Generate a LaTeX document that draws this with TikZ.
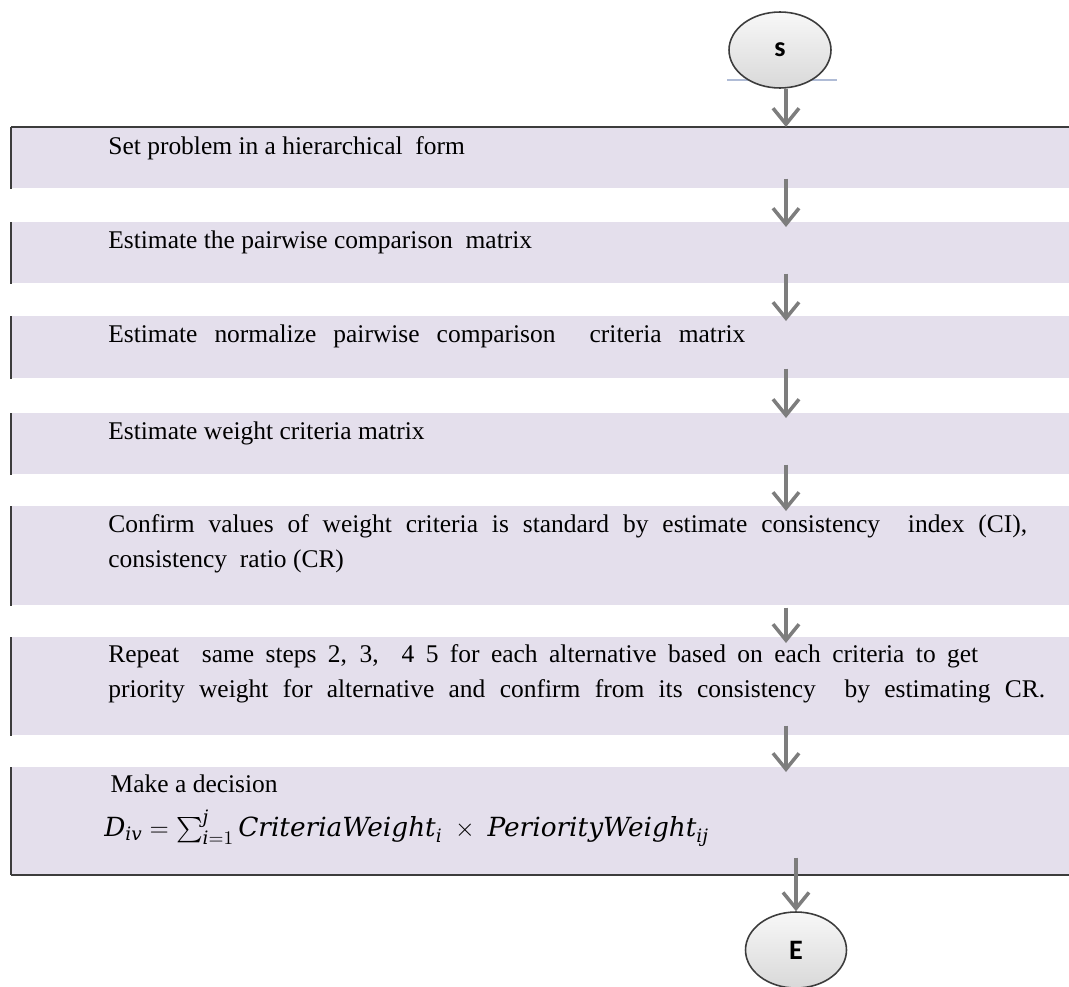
\documentclass[tikz,border=0pt]{standalone}
\usepackage{fontspec}
\usepackage{amsmath}
\setmainfont{Liberation Serif}
\newfontfamily\ovalfont{Carlito}
\newfontfamily\formfont{DejaVu Serif}
\usetikzlibrary{arrows.meta,shapes.geometric}
\definecolor{boxfill}{RGB}{228,223,236}
\definecolor{edgegray}{RGB}{60,60,60}
\definecolor{flowgray}{RGB}{125,125,125}
\definecolor{ruleblue}{RGB}{176,188,214}
\newcommand{\spreadline}[2]{\makebox[#1][s]{#2}}
\newcommand{\fm}[1]{\text{\formfont\itshape #1}}

\begin{document}
\begin{tikzpicture}[x=0.02cm,y=-0.02cm,
    stepbox/.style={fill=boxfill,inner sep=0pt,anchor=north west,minimum width=21.16cm},
    steptext/.style={anchor=base west,align=left,inner sep=0pt,font=\fontsize{14.5}{19.9}\selectfont},
    oval/.style={ellipse,draw=edgegray,line width=0.9pt,top color=gray!6,bottom color=gray!30,inner sep=0pt,font=\ovalfont\bfseries\fontsize{16}{16}\selectfont},
    flow/.style={draw=flowgray,line width=2pt,-{Straight Barb[length=0.32cm,width=0.52cm]}}]
\useasboundingbox (0,0) rectangle (1069,987);
% step boxes: name/top/bottom
\foreach \n/\t/\b in {b1/127/188,b2/222/283,b3/316/378,b4/413/474,b5/506/605,b6/637/735,b7/767/874} {
    \node[stepbox,minimum height={(\b-\t)*0.02cm}] (\n) at (11,\t) {};
    \draw[edgegray,line width=1.2pt] (\n.north west) -- (\n.south west);
}
\draw[edgegray,line width=1.2pt] (b1.north west) -- (b1.north east);
\draw[edgegray,line width=1.2pt] (b7.south west) -- (b7.south east);
% texts (multi-line nodes sit on their last baseline)
\node[steptext] (t1) at (108,154) {Set problem in a hierarchical\ \ form};
\node[steptext] (t2) at (108,248) {Estimate the pairwise comparison\ \ matrix};
\node[steptext] (t3) at (108,342) {\spreadline{12.74cm}{Estimate normalize pairwise comparison\ \ criteria matrix}};
\node[steptext] (t4) at (108,439) {Estimate weight criteria matrix};
\node[steptext] (t5) at (108,567) {\spreadline{18.38cm}{Confirm values of weight criteria is standard by estimate consistency\ \ index (CI),}\\consistency\ \ ratio (CR)};
\node[steptext] (t6) at (108,697) {\spreadline{17.4cm}{Repeat\ \ same steps 2, 3,\ \ 4 5 for each alternative based on each criteria to get}\\\spreadline{18.74cm}{priority weight for alternative and confirm from its consistency\ \ by estimating CR.}};
\node[steptext] (t7) at (104,836) {\ Make a decision\\[5pt]{\fontsize{15}{19.9}\selectfont$\fm{D}_{\fm{iv}} = \textstyle\sum_{\fm{i}=1}^{\fm{j}} \fm{CriteriaWeight}_{\fm{i}} \;\times\; \fm{PeriorityWeight}_{\fm{ij}}$}};
% start and end
\draw[ruleblue,line width=0.8pt] (727,80) -- (837,80);
\node[oval,minimum width=2.04cm,minimum height=1.52cm] (S) at (780,50) {s};
\node[oval,minimum width=2.02cm,minimum height=1.52cm] (E) at (796,950) {E};
\coordinate (col) at (786,0);
\draw[flow] (S.south -| col) -- (b1.north -| col);
\foreach \a/\b in {b1/b2,b2/b3,b3/b4,b4/b5,b6/b7} {
    \draw[flow] ([yshift=0.2cm]\a.south -| col) -- ([yshift=-0.1cm]\b.north -| col);
}
\draw[flow] ([yshift=-0.04cm]b5.south -| col) -- ([yshift=-0.12cm]b6.north -| col);
\draw[flow] ([yshift=0.34cm]b7.south -| E) -- (E.north);
\end{tikzpicture}
\end{document}
